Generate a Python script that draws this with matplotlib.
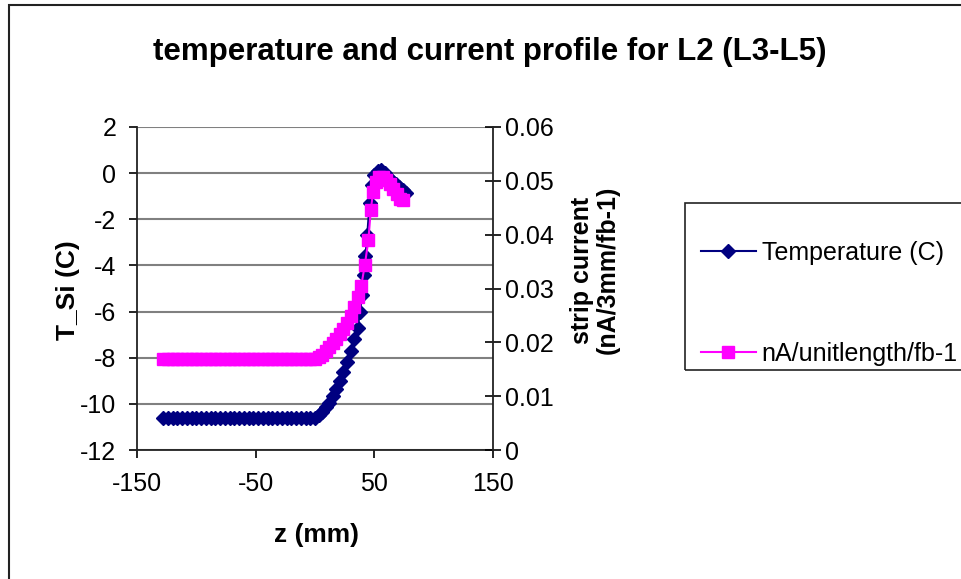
import matplotlib
matplotlib.use("Agg")
import matplotlib.pyplot as plt
from matplotlib.patches import Rectangle
from matplotlib.lines import Line2D

plt.rcParams['font.family'] = ['Liberation Sans', 'DejaVu Sans']
plt.rcParams['axes.unicode_minus'] = False

# z position (mm) and temperature of the silicon (C)
z_temp = [-128, -124, -120, -116, -112, -108, -104, -100, -96, -92, -88, -84, -80,
          -76, -72, -68, -64, -60, -56, -52, -48, -44, -40, -36, -32, -28, -24,
          -20, -16, -12, -8, -4, 0, 3, 6, 9, 12, 15, 18, 21, 24, 27, 30, 33, 36,
          38, 39.5, 41, 42.5, 44, 46, 48, 50, 53, 56, 59, 62, 65, 68, 71, 74, 77]
temp = [-10.6, -10.6, -10.6, -10.6, -10.6, -10.6, -10.6, -10.6, -10.6, -10.6, -10.6,
        -10.6, -10.6, -10.6, -10.6, -10.6, -10.6, -10.6, -10.6, -10.6, -10.6, -10.6,
        -10.6, -10.6, -10.6, -10.6, -10.6, -10.6, -10.6, -10.6, -10.6, -10.6, -10.6,
        -10.5, -10.35, -10.15, -9.95, -9.65, -9.35, -9.0, -8.6, -8.2, -7.7, -7.2, -6.7,
        -6.0, -5.3, -4.4, -3.6, -2.7, -1.3, -0.5, -0.1, 0.1, 0.15, 0.0, -0.2, -0.35,
        -0.45, -0.6, -0.75, -0.85]

# strip current per unit length (nA/3mm/fb-1)
z_curr = [-128, -124, -120, -116, -112, -108, -104, -100, -96, -92, -88, -84, -80,
          -76, -72, -68, -64, -60, -56, -52, -48, -44, -40, -36, -32, -28, -24,
          -20, -16, -12, -8, -4, 0, 3, 6, 9, 12, 15, 18, 21, 24, 27, 30, 33, 36,
          39, 42, 45, 47, 49, 51, 54, 57, 60, 63, 66, 69, 72, 74]
curr = [0.0169, 0.0169, 0.0169, 0.0169, 0.0169, 0.0169, 0.0169, 0.0169, 0.0169,
        0.0169, 0.0169, 0.0169, 0.0169, 0.0169, 0.0169, 0.0169, 0.0169, 0.0169,
        0.0169, 0.0169, 0.0169, 0.0169, 0.0169, 0.0169, 0.0169, 0.0169, 0.0169,
        0.0169, 0.0169, 0.0169, 0.0169, 0.0169, 0.0169,
        0.0172, 0.0177, 0.0184, 0.0191, 0.0198, 0.0206, 0.0215, 0.0224, 0.0235,
        0.0248, 0.0265, 0.0284, 0.0305, 0.0344, 0.0390, 0.0446, 0.0480, 0.0498,
        0.0508, 0.0508, 0.0502, 0.0494, 0.0485, 0.0475, 0.0467, 0.0465]

x_ticks = [-150, -50, 50, 150]
t_ticks = [-12, -10, -8, -6, -4, -2, 0, 2]
i_ticks = [0, 0.01, 0.02, 0.03, 0.04, 0.05, 0.06]
i_labels = ['0', '0.01', '0.02', '0.03', '0.04', '0.05', '0.06']

navy = '#000080'
pink = '#FF00FF'
fs = 18

fig = plt.figure(figsize=(9.61, 5.79), dpi=100)
ax = fig.add_axes([137/961, 1 - 450/579, 356/961, 323/579])
ax2 = ax.twinx()

ax.plot(z_temp, temp, color=navy, lw=1.5, marker='D', markersize=7.5,
        markerfacecolor=navy, markeredgecolor=navy, label='Temperature (C)')
ax2.plot(z_curr, curr, color=pink, lw=1.5, marker='s', markersize=8.5,
         markerfacecolor=pink, markeredgecolor=pink, label='nA/unitlength/fb-1')

ax.set_xlim(-150, 150)
ax.set_ylim(-12, 2)
ax2.set_ylim(0, 0.06)
ax.set_xticks(x_ticks)
ax.set_yticks(t_ticks)
ax2.set_yticks(i_ticks)
ax2.set_yticklabels(i_labels)

ax.yaxis.grid(True, color='#808080', lw=1.5)
ax.set_axisbelow(True)

for a in (ax, ax2):
    a.spines['top'].set_visible(False)
    for s in a.spines.values():
        s.set_color('#222222')
        s.set_linewidth(1.3)
ax.spines['right'].set_visible(False)
ax2.spines['left'].set_visible(False)
ax2.spines['bottom'].set_visible(False)

ax.tick_params(axis='x', direction='out', length=6, width=1.2, pad=10, labelsize=fs)
ax.tick_params(axis='y', direction='out', length=6, width=1.2, pad=9, labelsize=fs)
ax2.tick_params(axis='y', direction='inout', length=12, width=1.2, pad=3, labelsize=fs)

# axis titles
fig.text(316/961, 1 - 535/579, 'z (mm)', fontsize=19, fontweight='bold',
         ha='center', va='center')
fig.text(68/961, 1 - 290/579, 'T_Si (C)', fontsize=19, fontweight='bold',
         ha='center', va='center', rotation=90)
fig.text(595/961, 1 - 270/579, 'strip current\n(nA/3mm/fb-1)', fontsize=18,
         fontweight='bold', ha='center', va='center', rotation=90,
         multialignment='center', linespacing=1.1)

fig.suptitle('temperature and current profile for L2 (L3-L5)', fontsize=22.5,
             fontweight='bold', x=490/961, y=1 - 52/579, va='center')

# legend box, running off the right edge as in the original
fig.patches.append(Rectangle((685/961, 1 - 370/579), 300/961, 167/579,
                             transform=fig.transFigure, fill=False,
                             edgecolor='#222222', lw=1.2))
handles = [Line2D([], [], color=navy, marker='D', markersize=7.5, lw=1.5),
           Line2D([], [], color=pink, marker='s', markersize=8.5, lw=1.5)]
fig.legend(handles, ['Temperature (C)', 'nA/unitlength/fb-1'], loc='upper left',
           bbox_to_anchor=(688/961, 1 - 228/579), frameon=False, fontsize=fs,
           handlelength=2.2, handletextpad=0.25, labelspacing=3.1, borderpad=0)

# outer chart frame
fig.patches.append(Rectangle((9/961, -0.05), 1.1, 1 - 5/579 + 0.05,
                             transform=fig.transFigure, fill=False,
                             edgecolor='#222222', lw=1.5))

fig.savefig('out.png', dpi=100)
